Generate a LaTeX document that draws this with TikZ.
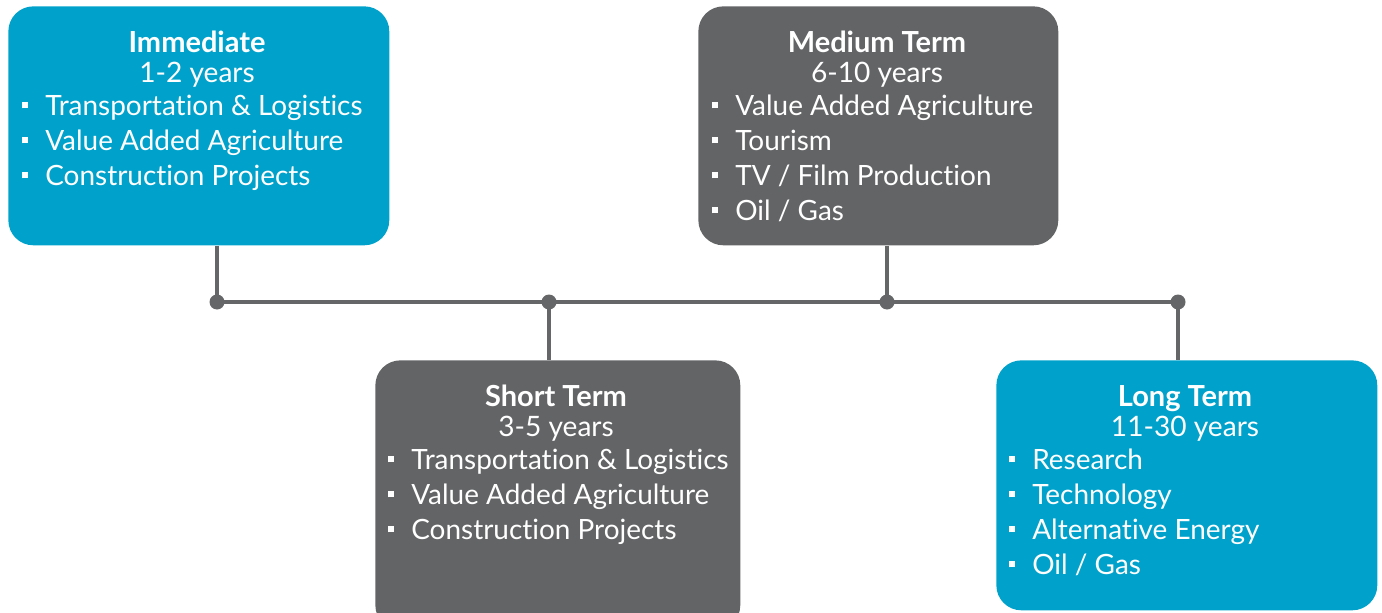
\documentclass[tikz,border=0pt]{standalone}
\usepackage{fontspec}
\setmainfont{Lato}[Ligatures=NoCommon]
\usetikzlibrary{positioning}
\definecolor{termblue}{HTML}{00A2CB}
\definecolor{termgrey}{HTML}{636466}
\definecolor{busgrey}{HTML}{656668}
\tikzset{
  termbox/.style={anchor=north west, rounded corners=0.5cm, inner sep=0pt},
  termhead/.style={anchor=base, text=white, font=\fontsize{16.5}{19}\selectfont\bfseries, inner sep=0pt},
  termyears/.style={anchor=base, text=white, font=\fontsize{16}{19}\selectfont, inner sep=0pt},
  termitem/.style={anchor=base west, text=white, font=\fontsize{15.9}{19}\selectfont, inner sep=0pt},
  bus/.style={draw=busgrey, line width=2.8pt},
  joint/.style={fill=busgrey}
}
\newcommand{\bul}{\makebox[0.46cm][l]{\rule[3.8pt]{3.4pt}{3.4pt}}}

\begin{document}
\begin{tikzpicture}[x=0.02cm, y=-0.02cm]
  \useasboundingbox (0,0) rectangle (1382,612);
  \clip (0,0) rectangle (1382,612);

  % boxes
  \node[termbox, fill=termblue, minimum width=7.62cm, minimum height=4.78cm] (imm) at (8,6) {};
  \node[termbox, fill=termgrey, minimum width=7.2cm, minimum height=4.78cm] (med) at (698,6) {};
  \node[termbox, fill=termgrey, minimum width=7.3cm, minimum height=5.4cm] (short) at (375,360) {};
  \node[termbox, fill=termblue, minimum width=7.62cm, minimum height=5.0cm] (long) at (996,360) {};

  % immediate
  \node[termhead] (immT) at (197,52) {Immediate};
  \node[termyears] (immY) at (197,82) {1-2 years};
  \foreach \txt [count=\i] in {Transportation \& Logistics, Value Added Agriculture, Construction Projects}
    \node[termitem] (imm\i) at (22,80+35*\i) {\bul\txt};

  % medium
  \node[termhead] (medT) at (877,52) {Medium Term};
  \node[termyears] (medY) at (877,82) {6-10 years};
  \foreach \txt [count=\i] in {Value Added Agriculture, Tourism, TV / Film Production, Oil / Gas}
    \node[termitem] (med\i) at (712,80+35*\i) {\bul\txt};

  % short
  \node[termhead] (shortT) at (556,406) {Short Term};
  \node[termyears] (shortY) at (556,436) {3-5 years};
  \foreach \txt [count=\i] in {Transportation \& Logistics, Value Added Agriculture, Construction Projects}
    \node[termitem] (short\i) at (388,434+35*\i) {\bul\txt};

  % long
  \node[termhead] (longT) at (1185,406) {Long Term};
  \node[termyears] (longY) at (1185,436) {11-30 years};
  \foreach \txt [count=\i] in {Research, Technology, Alternative Energy, Oil / Gas}
    \node[termitem] (long\i) at (1009,434+35*\i) {\bul\txt};

  % timeline
  \coordinate (j1) at (217,302);
  \coordinate (j2) at (549,302);
  \coordinate (j3) at (887,302);
  \coordinate (j4) at (1178,302);
  \draw[bus] (imm.south -| j1) -- (j1);
  \draw[bus] (med.south -| j3) -- (j3);
  \draw[bus] (j2) -- (short.north -| j2);
  \draw[bus] (j4) -- (long.north -| j4);
  \draw[bus] (j1) -- (j4);
  \foreach \j in {j1,j2,j3,j4}
    \fill[joint] (\j) circle (0.15cm);
\end{tikzpicture}
\end{document}
